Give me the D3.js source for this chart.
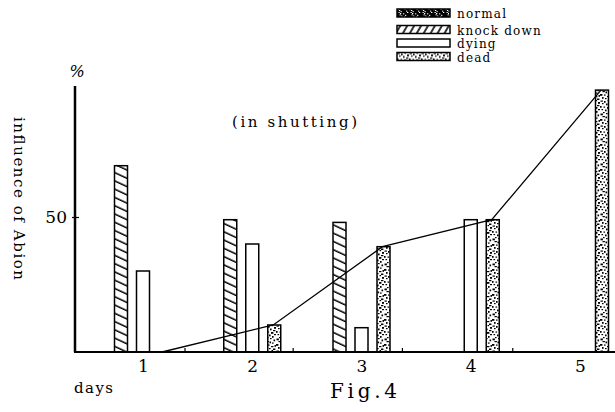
<!DOCTYPE html>
<html>
<head>
<meta charset="utf-8">
<script src="https://cdn.jsdelivr.net/npm/d3@7"></script>
<style>
	body { margin: 0; background: #fff; }
	svg text { font-family: "DejaVu Serif", serif; }
</style>
</head>
<body>
<div id="graph-container"></div>
<script>
// values (percent)
const days = [1, 2, 3, 4, 5];
const knockDown = [69, 49, 48, 0, 0];
const dying = [30, 40, 9, 49, 0];
const dead = [0, 10, 39, 49, 97];
const seriesNames = ["normal", "knock down", "dying", "dead"];
const yTicks = [50];
const minorTicks = [1.38, 2.37, 3.37, 4.38];

document.addEventListener("DOMContentLoaded", function () {
	builder();
});

function builder() {
	const w = 615;
	const h = 412;
	const serif = "DejaVu Serif, serif";

	const svg = d3
		.select("#graph-container")
		.append("svg")
		.attr("width", w)
		.attr("height", h);

	const x = d3.scaleLinear().domain([1, 5]).range([143, 580]);
	const y = d3.scaleLinear().domain([0, 50]).range([352, 217]);
	const offset = d3.scalePoint().domain(["knock down", "dying", "dead"]).range([-22, 22]);
	const barW = 13;

	// patterns
	const defs = svg.append("defs");
	defs.append("pattern")
		.attr("id", "hatchBar")
		.attr("patternUnits", "userSpaceOnUse")
		.attr("width", 8).attr("height", 7.5)
		.attr("patternTransform", "rotate(25)")
		.call((p) => {
			p.append("rect").attr("width", 8).attr("height", 7.5).attr("fill", "#fff");
			p.append("line").attr("x1", 0).attr("x2", 8).attr("y1", 3).attr("y2", 3)
				.attr("stroke", "#000").attr("stroke-width", 1.5);
		});
	defs.append("pattern")
		.attr("id", "hatchLegend")
		.attr("patternUnits", "userSpaceOnUse")
		.attr("width", 6).attr("height", 6)
		.attr("patternTransform", "rotate(-60)")
		.call((p) => {
			p.append("rect").attr("width", 6).attr("height", 6).attr("fill", "#fff");
			p.append("line").attr("x1", 0).attr("x2", 6).attr("y1", 3).attr("y2", 3)
				.attr("stroke", "#000").attr("stroke-width", 1.6);
		});
	// speckle tile (hand placed marks), used for "dead" and inverted for "normal"
	const dots = [[0.5, 0.5], [4, 1], [7.5, 0], [10, 2], [2, 3], [6, 3.5], [9, 5], [0, 6],
		[3.5, 6.5], [7, 7], [1.5, 9], [5, 9.5], [10, 9], [8, 11], [3, 12], [0.5, 13.5],
		[6, 13], [9.5, 14.5], [2.5, 16], [5.5, 16.5], [8, 17.5], [0, 19], [4, 19.5],
		[10.5, 20], [7, 21], [2, 22], [5, 23], [9, 23.5]];
	defs.append("pattern")
		.attr("id", "stipple")
		.attr("patternUnits", "userSpaceOnUse")
		.attr("width", 12).attr("height", 25)
		.call((p) => {
			p.append("rect").attr("width", 12).attr("height", 25).attr("fill", "#fff");
			p.selectAll("rect.d").data(dots).enter().append("rect")
				.attr("class", "d")
				.attr("x", (d) => d[0]).attr("y", (d) => d[1])
				.attr("width", (d, i) => i % 3 === 0 ? 2.4 : 1.6)
				.attr("height", (d, i) => i % 2 === 0 ? 1.2 : 1.8)
				.attr("fill", "#000");
		});
	defs.append("pattern")
		.attr("id", "speckle")
		.attr("patternUnits", "userSpaceOnUse")
		.attr("width", 12).attr("height", 25)
		.call((p) => {
			p.append("rect").attr("width", 12).attr("height", 25).attr("fill", "#000");
			p.selectAll("rect.d").data(dots.filter((d, i) => i % 2 === 0)).enter().append("rect")
				.attr("class", "d")
				.attr("x", (d) => d[0]).attr("y", (d) => d[1] / 3)
				.attr("width", 1.3).attr("height", 1).attr("fill", "#fff");
		});

	const fills = {
		"normal": "url(#speckle)",
		"knock down": "url(#hatchBar)",
		"dying": "#fff",
		"dead": "url(#stipple)"
	};

	// bars
	const bars = [];
	days.forEach((d, i) => {
		bars.push({ day: d, s: "knock down", v: knockDown[i] });
		bars.push({ day: d, s: "dying", v: dying[i] });
		bars.push({ day: d, s: "dead", v: dead[i] });
	});
	svg.append("g")
		.selectAll("rect")
		.data(bars.filter((b) => b.v > 0))
		.enter()
		.append("rect")
		.attr("x", (b) => x(b.day) + offset(b.s) - barW / 2)
		.attr("y", (b) => y(b.v))
		.attr("width", barW)
		.attr("height", (b) => y(0) - y(b.v))
		.attr("fill", (b) => fills[b.s])
		.attr("stroke", "#000")
		.attr("stroke-width", 1.5);

	// line through tops of "dead"
	const line = d3.line()
		.x((d, i) => x(days[i]) + offset("dead") - (i === 0 ? 3 : 1))
		.y((d) => y(d));
	svg.append("path")
		.datum(dead)
		.attr("d", line)
		.attr("fill", "none")
		.attr("stroke", "#000")
		.attr("stroke-width", 1.3);

	// baseline
	svg.append("line")
		.attr("x1", 74).attr("x2", w)
		.attr("y1", y(0)).attr("y2", y(0))
		.attr("stroke", "#000").attr("stroke-width", 2);

	// x axis labels
	const xAxis = svg.append("g")
		.attr("transform", `translate(0,${y(0)})`)
		.call(d3.axisBottom(x).tickValues(days).tickSize(0).tickPadding(8).tickFormat(d3.format("d")));
	xAxis.select(".domain").remove();
	xAxis.attr("font-family", serif);
	xAxis.selectAll("text")
		.attr("font-size", 17)
		.attr("font-weight", 300)
		.attr("fill", "#000");

	// small ticks on baseline
	const xMinor = svg.append("g")
		.attr("transform", `translate(0,${y(0)})`)
		.call(d3.axisBottom(x).tickValues(minorTicks).tickSize(-4).tickFormat(""));
	xMinor.select(".domain").remove();
	xMinor.selectAll("line").attr("stroke-width", 1.2);

	// y axis
	svg.append("line")
		.attr("x1", 75).attr("x2", 75)
		.attr("y1", y(0)).attr("y2", y(98.5))
		.attr("stroke", "#000").attr("stroke-width", 2.5);
	const yAxis = svg.append("g")
		.attr("transform", "translate(75,0)")
		.call(d3.axisLeft(y).tickValues(yTicks).tickSizeInner(3).tickSizeOuter(0).tickPadding(5));
	yAxis.select(".domain").remove();
	yAxis.attr("font-family", serif);
	yAxis.selectAll("line").attr("x2", -3).attr("x1", 4).attr("stroke-width", 1.2);
	yAxis.selectAll("text")
		.attr("font-size", 17)
		.attr("fill", "#000");

	svg.append("text")
		.attr("x", 77).attr("y", 77)
		.attr("text-anchor", "middle")
		.attr("font-size", 16)
		.attr("font-style", "italic")
		.text("%");

	svg.append("text")
		.attr("transform", "translate(14,117) rotate(90)")
		.attr("font-size", 15)
		.attr("textLength", 163)
		.attr("lengthAdjust", "spacing")
		.text("influence of Abion");

	svg.append("text")
		.attr("x", 232).attr("y", 127)
		.attr("font-size", 15)
		.attr("textLength", 125)
		.attr("lengthAdjust", "spacing")
		.text("(in shutting)");

	svg.append("text")
		.attr("x", 74).attr("y", 393)
		.attr("font-size", 15)
		.attr("textLength", 39)
		.attr("lengthAdjust", "spacing")
		.text("days");

	svg.append("text")
		.attr("x", 330).attr("y", 398)
		.attr("font-size", 20)
		.attr("textLength", 67)
		.attr("lengthAdjust", "spacing")
		.text("Fig.4");

	// legend
	const legend = svg.append("g")
		.selectAll("g")
		.data(seriesNames)
		.enter()
		.append("g")
		.attr("transform", (d, i) => `translate(397,${i === 0 ? 9 : 12 + i * 13.5})`);
	legend.append("rect")
		.attr("width", 53).attr("height", 8)
		.attr("fill", (d) => d === "knock down" ? "url(#hatchLegend)" : fills[d])
		.attr("stroke", "#000").attr("stroke-width", 1.5);
	legend.append("text")
		.attr("x", 60).attr("y", 9)
		.attr("font-size", 12)
		.attr("letter-spacing", 1.2)
		.text((d) => d);
}
</script>
</body>
</html>
